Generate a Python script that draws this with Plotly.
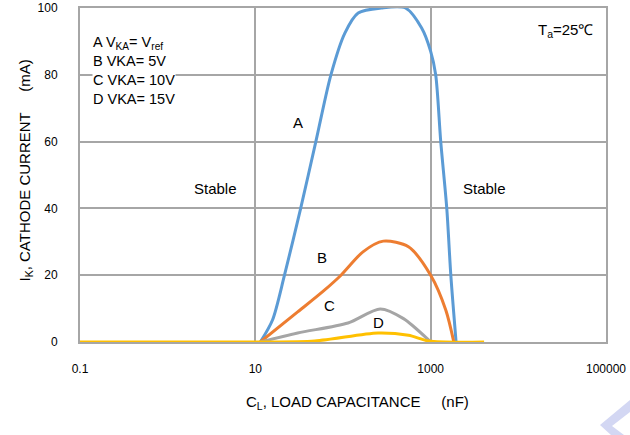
import math
import plotly.graph_objects as go

# Data (C in nF, I in mA)
a_c = [11.4, 15.7, 21.5, 32.9, 49, 72.8, 105, 149, 273, 516, 789, 1000, 1141, 1303, 1527, 1698, 1950]
a_i = [0, 6.6, 20, 40, 60, 80, 92.5, 98.5, 100, 100, 94, 87, 80, 60, 40, 20, 0]

b_c = [11.4, 30.4, 60, 94.8, 169, 288, 558, 1000, 1487, 1837]
b_i = [0, 9.0, 15.3, 20, 27, 30.2, 28.5, 20, 9.6, 0]

c_c = [11.4, 30.4, 114, 266, 490, 948, 1000]
c_i = [0, 2.7, 5.7, 9.9, 7, 0.6, 0]

d_c = [0.1, 10, 47.6, 251, 558, 948, 4070]
d_i = [0, 0, 0.3, 2.7, 2, 0.3, 0]

x_ticks = [0.1, 10, 1000, 100000]
x_ticktext = ["0.1", "10", "1000", "100000"]
y_ticks = [0, 20, 40, 60, 80, 100]

series = [
    ("A", a_c, a_i, "#5B9BD5"),
    ("B", b_c, b_i, "#ED7D31"),
    ("C", c_c, c_i, "#A5A5A5"),
    ("D", d_c, d_i, "#FFC000"),
]

labels = [("A", 30.4, 65.6), ("B", 57.4, 25.4), ("C", 70.8, 10.8), ("D", 251, 5.7),
          ("Stable", 3.47, 46), ("Stable", 4070, 46)]

FONT = "Liberation Sans, Arial, sans-serif"
GRID = "#a6a6a6"
TXT = dict(family=FONT, size=15, color="#000")

fig = go.Figure()
for name, xs, ys, col in series:
    fig.add_trace(go.Scatter(x=xs, y=ys, mode="lines", name=name,
                             line=dict(color=col, width=3, shape="spline", smoothing=0.8),
                             cliponaxis=False, showlegend=False))

# curve letter labels and "Stable" regions (log axis -> annotation x in log10 units)
for txt, x, y in labels:
    fig.add_annotation(x=math.log10(x), y=y, xref="x", yref="y", text=txt,
                       showarrow=False, font=TXT)

fig.add_annotation(x=0.023, y=0.925, xref="paper", yref="paper", xanchor="left", yanchor="top",
                   align="left", showarrow=False, bgcolor="white", borderpad=0,
                   text="A V<sub>KA</sub>= V<sub>ref</sub><br>B VKA= 5V<br>C VKA= 10V<br>D VKA= 15V",
                   font=dict(family=FONT, size=14.5, color="#000"))

fig.add_annotation(x=0.979, y=0.934, xref="paper", yref="paper", xanchor="right", yanchor="middle",
                   showarrow=False, text="T<sub>a</sub>=25℃", font=TXT)

# axis titles
fig.add_annotation(x=(357 - 80) / 526, y=(342 - 414) / 334, xref="paper", yref="paper",
                   showarrow=False, text="C<sub>L</sub>, LOAD CAPACITANCE     (nF)", font=TXT)
fig.add_annotation(x=(14 - 80) / 526, y=0.512, xref="paper", yref="paper", textangle=-90,
                   showarrow=False, text="I<sub>K</sub>, CATHODE CURRENT     (mA)", font=TXT)

# watermark chevron (bottom-right corner)
def px(xp, yp):
    return (xp - 80) / 526, (342 - yp) / 334
pts = [(600, 425), (630, 400), (630, 412), (612, 426), (624, 435), (611, 435)]
path = "M " + " L ".join(f"{px(a, b)[0]:.4f},{px(a, b)[1]:.4f}" for a, b in pts) + " Z"
fig.add_shape(type="path", path=path, xref="paper", yref="paper",
              fillcolor="#d3d7f3", line=dict(width=0), layer="above")

fig.update_xaxes(type="log", range=[-1, 5], tickvals=x_ticks, ticktext=x_ticktext,
                 showgrid=True, gridcolor=GRID, gridwidth=2, automargin=False,
                 showline=True, linecolor=GRID, linewidth=2, mirror=True,
                 ticks="", ticklabelstandoff=15, zeroline=False,
                 tickfont=dict(family=FONT, size=12, color="#000"))
fig.update_yaxes(range=[0, 100], tickvals=y_ticks,
                 showgrid=True, gridcolor=GRID, gridwidth=2, automargin=False,
                 showline=True, linecolor=GRID, linewidth=2, mirror=True,
                 ticks="", ticklabelstandoff=18, zeroline=False,
                 tickfont=dict(family=FONT, size=12, color="#000"))

fig.update_layout(width=630, height=435, margin=dict(l=80, r=24, t=8, b=93, autoexpand=False),
                  paper_bgcolor="white", plot_bgcolor="white", showlegend=False)

# remove the default page body margin so the figure fills the 630x435 window
fig.write_html("out.html", config={"displayModeBar": False},
               post_script="document.body.style.margin='0';")
